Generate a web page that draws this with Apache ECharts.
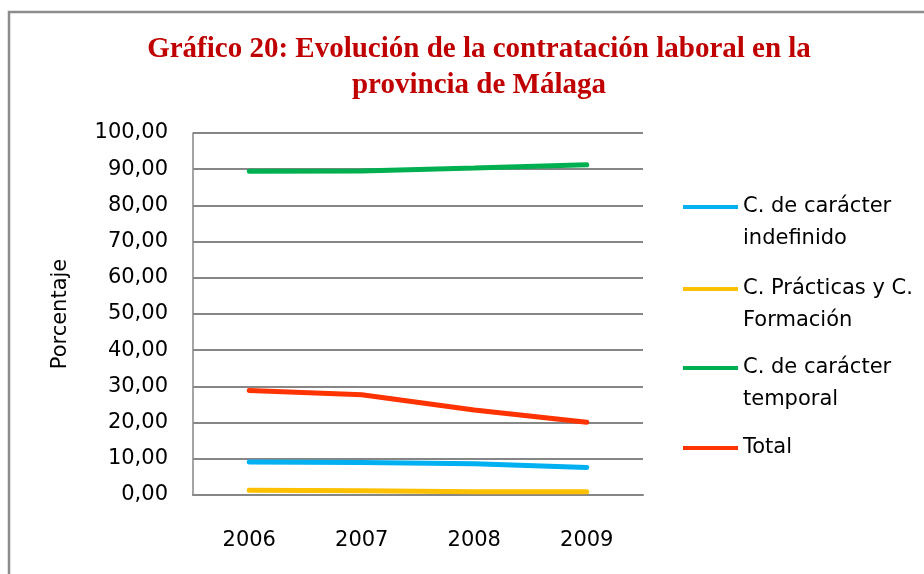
<!DOCTYPE html>
<html><head><meta charset="utf-8">
<script src="https://cdn.jsdelivr.net/npm/echarts@6/dist/echarts.min.js"></script>
<style>html,body{margin:0;padding:0;background:#fff}#c{width:924px;height:574px}</style>
</head><body><div id="c"></div>
<script>
const years = ['2006','2007','2008','2009'];
const indefinido = [9.1, 9.0, 8.6, 7.6];
const practicas = [1.3, 1.2, 0.9, 0.9];
const temporal = [89.4, 89.5, 90.3, 91.2];
const total = [28.9, 27.7, 23.5, 20.1];
const seriesNames = ['C. de carácter\nindefinido', 'C. Prácticas y C.\nFormación', 'C. de carácter\ntemporal', 'Total'];
const seriesColors = ['#00B0F0', '#FFC000', '#00B050', '#FF3300'];
const seriesData = [indefinido, practicas, temporal, total];

const font = 'DejaVu Sans';
const fs = 21;
const lh = 32;
const legendLineY = [207, 289, 368, 446];
const tallIcon = 'path://M0,0L55,0L55,4L0,4Z M0,36L0.01,36';
const chart = echarts.init(document.getElementById('c'));
chart.setOption({
  animation: false,
  graphic: [{type:'rect', shape:{x:9, y:12, width:1000, height:700}, style:{fill:'none', stroke:'#8c8c8c', lineWidth:2.5}}],
  title: {
    text: 'Gráfico 20: Evolución de la contratación laboral en la\nprovincia de Málaga',
    left: 474, top: 27, textAlign: 'center',
    textStyle: {fontFamily:'Liberation Serif', fontWeight:'bold', fontSize:29, color:'#C00000', lineHeight:36}
  },
  legend: seriesNames.map((n,i)=>{
    const two = n.indexOf('\n')>=0;
    return {
      data:[n], orient:'vertical', left:678, top: legendLineY[i] - (two ? 21 : 19),
      itemWidth:55, itemHeight: two ? 36 : 4, itemGap:0, icon: two ? tallIcon : 'rect',
      itemStyle:{borderWidth:0},
      textStyle:{fontFamily:font, fontSize:fs, color:'#000', lineHeight:lh}
    };
  }),
  grid: {left:193, top:133, width:450, height:362},
  xAxis: {
    type:'category', data:years, boundaryGap:true,
    axisLine:{lineStyle:{color:'#868686', width:2}}, axisTick:{show:false},
    axisLabel:{fontFamily:font, fontSize:fs, color:'#000', margin:35}
  },
  yAxis: {
    type:'value', min:0, max:100, interval:10,
    name:'Porcentaje', nameLocation:'middle', nameGap:122, nameRotate:90,
    nameTextStyle:{fontFamily:font, fontSize:fs, color:'#000'},
    axisLine:{show:true, lineStyle:{color:'#868686', width:1.5}}, axisTick:{show:false},
    splitLine:{lineStyle:{color:'#868686', width:2}},
    axisLabel:{fontFamily:font, fontSize:fs, color:'#000', margin:25, formatter:v=>v.toFixed(2).replace('.',',')}
  },
  series: seriesNames.map((n,i)=>({
    name:n, type:'line', data:seriesData[i], symbol:'none', color:seriesColors[i],
    lineStyle:{width:5, color:seriesColors[i], cap:'round'}
  }))
});
</script></body></html>
